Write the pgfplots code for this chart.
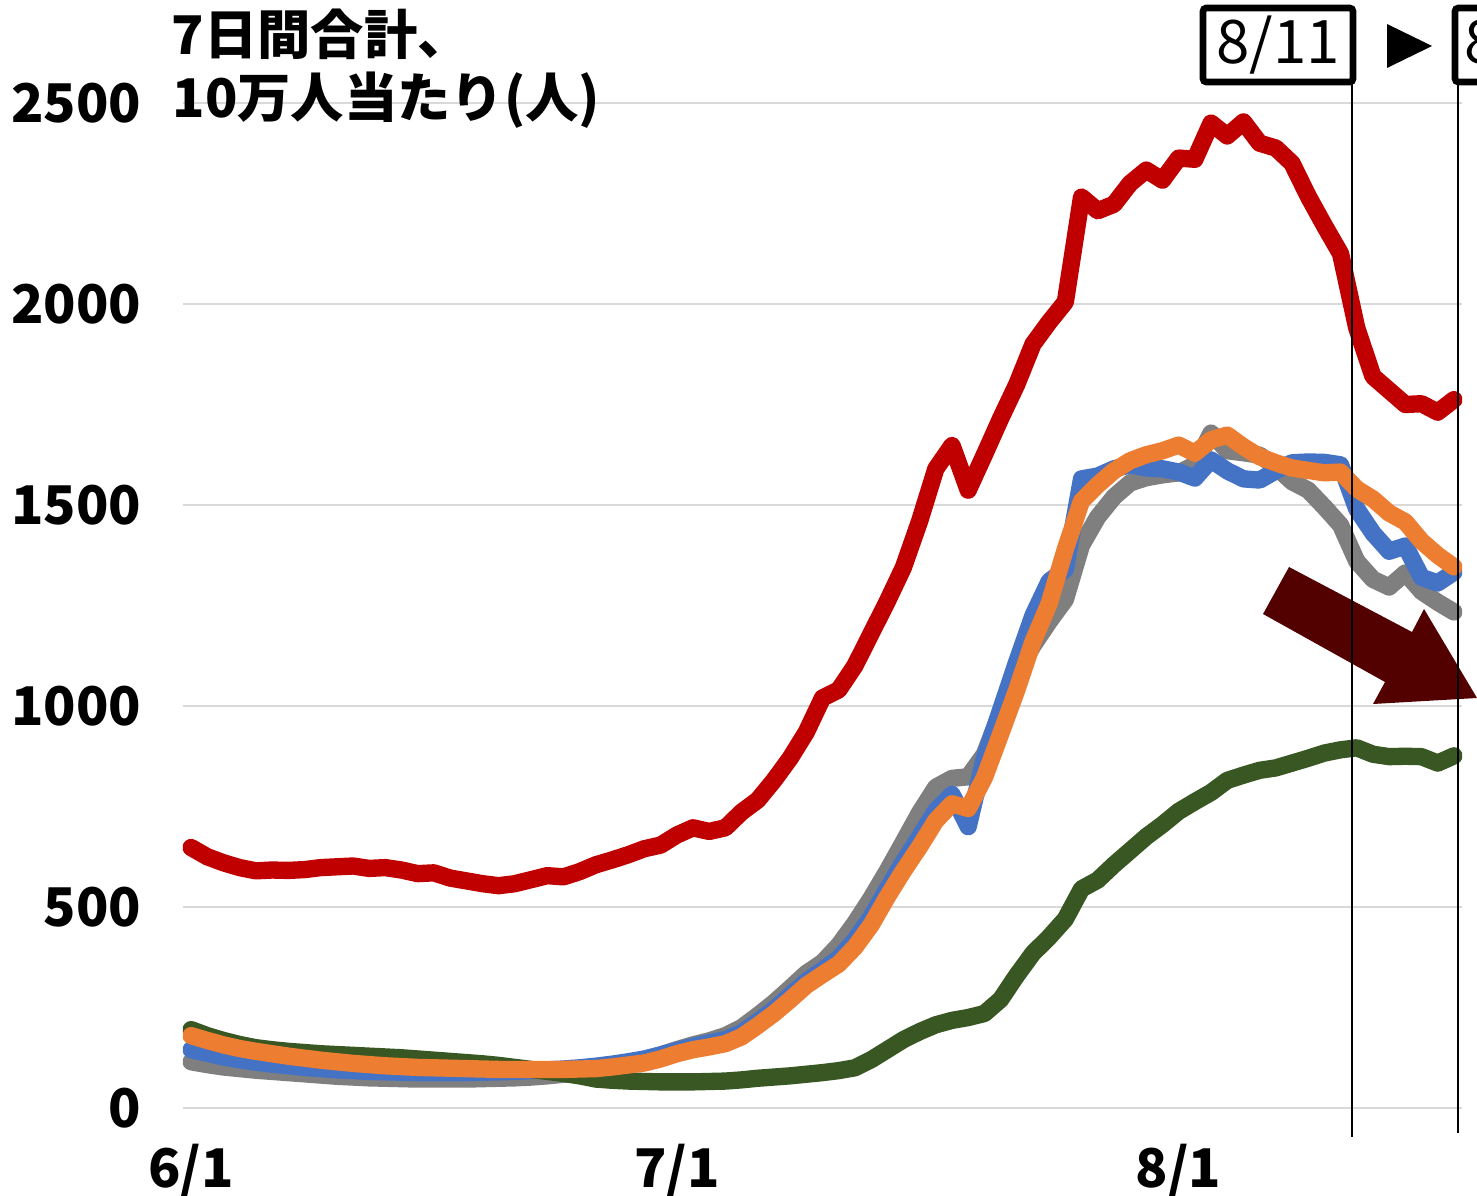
\documentclass[border=0pt]{standalone}
\usepackage{fontspec}
\setmainfont{Noto Sans CJK JP}
\usepackage{pgfplots}
\pgfplotsset{compat=1.18}
\usepackage{pgfplotstable}
\definecolor{cred}{HTML}{C00000}
\definecolor{cblue}{HTML}{4472C4}
\definecolor{corange}{HTML}{ED7D31}
\definecolor{cgray}{HTML}{7F7F7F}
\definecolor{cgreen}{HTML}{385723}
\definecolor{carrow}{HTML}{530000}
\definecolor{gridgray}{HTML}{D9D9D9}
\pgfplotstableread{
x red blue orange gray green
0.5 648 145 180 115 195
1.5 625 136 168 108 180
2.5 610 127 157 102 168
3.5 598 120 148 98 158
4.5 590 114 141 94 150
5.5 592 109 135 91 145
6.5 591 105 129 88 141
7.5 593 101 124 85 138
8.5 598 98 119 82 135
9.5 600 95 115 79 133
10.5 602 93 111 77 131
11.5 596 91 108 75 129
12.5 598 90 105 74 127
13.5 592 89 103 73 125
14.5 583 88 101 72 122
15.5 585 88 100 72 119
16.5 572 88 99 72 116
17.5 565 88 98 72 113
18.5 558 89 97 73 110
19.5 553 90 96 74 106
20.5 558 91 96 75 101
21.5 568 93 96 77 96
22.5 578 95 96 80 91
23.5 575 97 96 84 86
24.5 588 100 97 88 80
25.5 605 104 98 94 72
26.5 617 109 102 102 69
27.5 630 115 107 110 67
28.5 645 122 112 120 66
29.5 654 132 122 132 65
30.5 679 143 135 145 65
31.5 697 153 145 157 65
32.5 688 162 152 167 66
33.5 697 170 160 180 67
34.5 736 187 177 200 70
35.5 766 215 205 230 74
36.5 815 245 235 262 77
37.5 870 280 269 298 80
38.5 935 315 305 335 84
39.5 1020 343 332 362 88
40.5 1040 372 358 405 93
41.5 1100 418 400 460 100
42.5 1180 475 455 522 120
43.5 1260 545 525 590 145
44.5 1345 612 590 662 170
45.5 1460 675 650 735 190
46.5 1590 740 715 798 207
47.5 1648 780 757 820 218
48.5 1537 700 745 824 225
49.5 1625 870 822 880 235
50.5 1715 990 930 985 270
51.5 1800 1110 1040 1080 330
52.5 1900 1225 1160 1150 385
53.5 1955 1310 1255 1210 425
54.5 2005 1340 1390 1265 470
55.5 2266 1565 1510 1400 545
56.5 2232 1572 1550 1470 567
57.5 2248 1590 1585 1520 605
58.5 2300 1600 1610 1555 640
59.5 2333 1592 1625 1568 675
60.5 2308 1590 1635 1575 705
61.5 2363 1582 1649 1580 738
62.5 2360 1567 1629 1600 762
63.5 2450 1612 1662 1679 785
64.5 2418 1585 1674 1635 815
65.5 2453 1565 1645 1630 828
66.5 2400 1562 1620 1624 840
67.5 2388 1585 1605 1595 846
68.5 2350 1605 1592 1558 858
69.5 2268 1607 1586 1537 870
70.5 2195 1606 1580 1495 883
71.5 2125 1600 1582 1450 891
72.5 1940 1490 1540 1360 896
73.5 1820 1430 1515 1315 880
74.5 1785 1385 1480 1296 874
75.5 1750 1398 1458 1331 875
76.5 1752 1320 1410 1285 874
77.5 1731 1306 1375 1258 858
78.5 1762 1333 1346 1234 876
}\datatable
\begin{document}
\begin{tikzpicture}
\path[use as bounding box] (-54.9pt,-26.1pt) rectangle (388.2pt,332.4pt);
\clip (-54.9pt,-26.1pt) rectangle (388.2pt,332.4pt);
\begin{axis}[
  at={(0pt,0pt)}, anchor=south west,
  scale only axis, width=383.7pt, height=301.5pt,
  xmin=0, xmax=79, ymin=0, ymax=2500,
  axis line style={draw=none},
  major tick length=0pt,
  ytick={0,500,...,2500},
  xtick={0.5,30.5,61.5},
  xticklabels={6/1,7/1,8/1},
  ymajorgrids,
  grid style={draw=gridgray, line width=0.6pt},
  tick label style={font=\fontsize{16}{16}\selectfont\bfseries, text=black},
  /pgf/number format/assume math mode=true,
  /pgf/number format/1000 sep={},
  yticklabel style={anchor=east, inner sep=0pt, xshift=-12.4pt},
  xticklabel style={anchor=north, inner sep=0pt, yshift=-10.5pt},
  every axis plot/.append style={line width=5.2pt, line join=round, line cap=round, mark=none},
]
\addplot[cgray] table[x=x, y=gray] {\datatable};
\addplot[cblue] table[x=x, y=blue] {\datatable};
\addplot[cgreen] table[x=x, y=green] {\datatable};
\addplot[corange] table[x=x, y=orange] {\datatable};
\addplot[cred] table[x=x, y=red] {\datatable};
\draw[gridgray, line width=0.6pt] (axis cs:0,0) -- ++(0pt,-4.5pt);
\draw[gridgray, line width=0.6pt] (axis cs:30,0) -- ++(0pt,-4.5pt);
\draw[gridgray, line width=0.6pt] (axis cs:61,0) -- ++(0pt,-4.5pt);
\end{axis}
% title
\node[anchor=base west, inner sep=0pt, font=\fontsize{16}{16}\selectfont\bfseries] at (-3.6pt,316pt) {7日間合計、};
\node[anchor=base west, inner sep=0pt, font=\fontsize{16}{16}\selectfont\bfseries] at (-3.3pt,297pt) {10万人当たり(人)};
% arrow
\fill[carrow] (324pt,148.2pt) -- (331.8pt,162.3pt) -- (368.7pt,142.8pt) -- (372.3pt,149.7pt) -- (388.2pt,123pt) -- (357pt,121.2pt) -- (360.6pt,127.8pt) -- cycle;
% vertical lines
\draw[black, line width=0.8pt] (350.7pt,307.8pt) -- (350.7pt,-8.7pt);
\draw[black, line width=0.8pt] (382.5pt,307.8pt) -- (382.5pt,-7.5pt);
% boxes
\draw[black, line width=2pt, rounded corners=1pt, fill=white] (306pt,307.8pt) rectangle (351pt,330pt);
\node[inner sep=0pt, font=\fontsize{18}{18}\selectfont] at (328.5pt,318.9pt) {8/11};
\draw[black, line width=2pt, rounded corners=1pt, fill=white] (381.6pt,307.8pt) rectangle (428pt,330pt);
\node[anchor=west, inner sep=0pt, font=\fontsize{18}{18}\selectfont] at (384.3pt,318.9pt) {8/18};
\fill[black] (361.2pt,325.2pt) -- (361.2pt,312pt) -- (374.7pt,318.6pt) -- cycle;
\end{tikzpicture}
\end{document}
